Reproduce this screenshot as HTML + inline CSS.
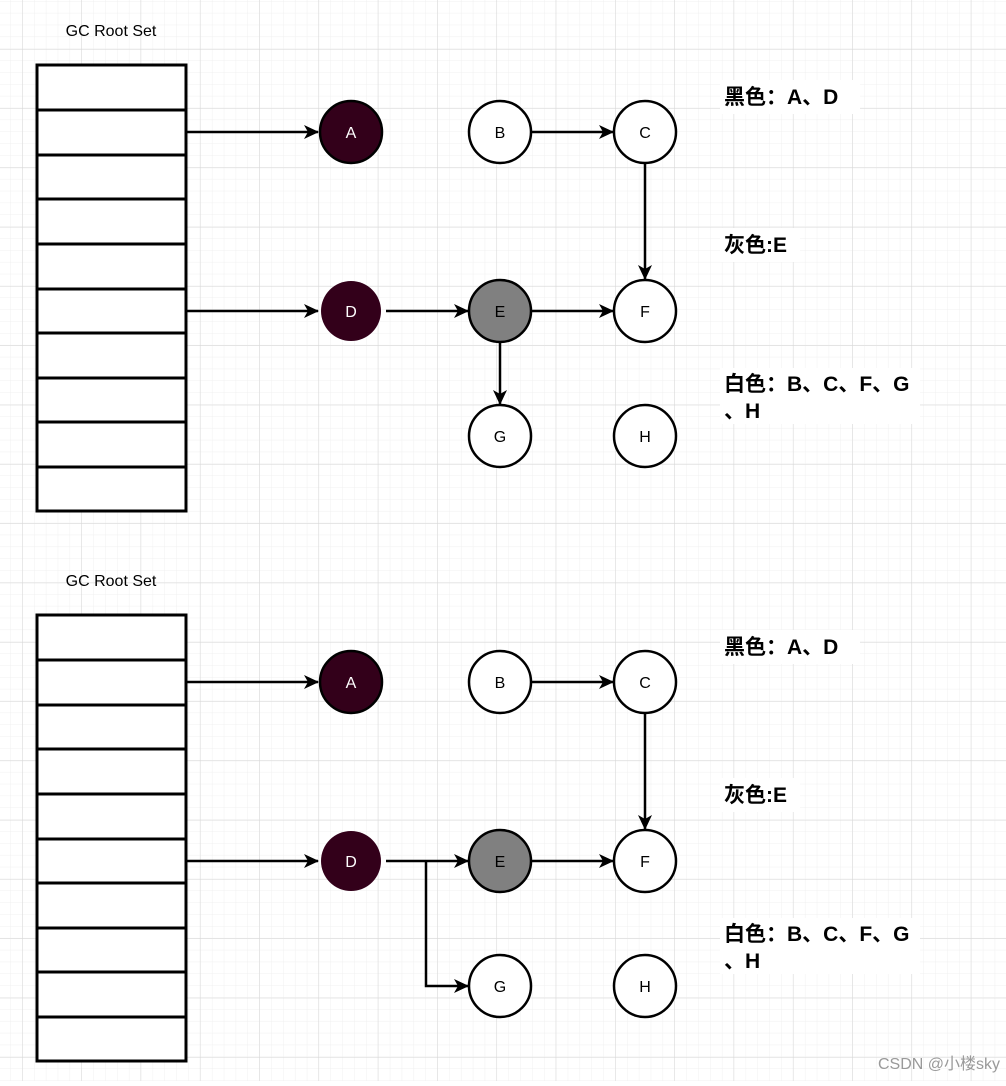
<!DOCTYPE html>
<html><head><meta charset="utf-8"><style>
body{margin:0;width:1006px;height:1081px;overflow:hidden;background:#fff;}
</style></head><body>
<svg width="1006" height="1081" xmlns="http://www.w3.org/2000/svg" font-family="Liberation Sans, Noto Sans CJK SC, sans-serif">
<defs>
<pattern id="minor" x="10.3" y="1" width="11.86" height="11.86" patternUnits="userSpaceOnUse"><path d="M0 0H11.86M0 0V11.86" stroke="#f0f0f0" stroke-width="1" fill="none"/></pattern>
<pattern id="major" x="22" y="49" width="59.3" height="59.3" patternUnits="userSpaceOnUse"><path d="M0 0H59.3M0 0V59.3" stroke="#d6d6d6" stroke-width="1" fill="none"/></pattern>
<marker id="ar" markerWidth="16" markerHeight="14" refX="14" refY="7" orient="auto" markerUnits="userSpaceOnUse"><path d="M0 0L15 7L0 14L4 7Z" fill="#000"/></marker>
</defs>
<rect width="1006" height="1081" fill="url(#minor)"/>
<rect width="1006" height="1081" fill="url(#major)"/>
<g id="d1">
<text x="111" y="36" font-size="16" text-anchor="middle">GC Root Set</text>
<rect x="37" y="65" width="149" height="446" fill="#fff" stroke="#000" stroke-width="3"/>
<g stroke="#000" stroke-width="3">
<line x1="37" y1="110" x2="186" y2="110"/><line x1="37" y1="155" x2="186" y2="155"/><line x1="37" y1="199" x2="186" y2="199"/><line x1="37" y1="244" x2="186" y2="244"/><line x1="37" y1="289" x2="186" y2="289"/><line x1="37" y1="333" x2="186" y2="333"/><line x1="37" y1="378" x2="186" y2="378"/><line x1="37" y1="422" x2="186" y2="422"/><line x1="37" y1="467" x2="186" y2="467"/>
</g>
<g stroke="#000" stroke-width="2.5" fill="none" marker-end="url(#ar)">
<line x1="186" y1="132" x2="318" y2="132"/>
<line x1="186" y1="311" x2="318" y2="311"/>
<line x1="532" y1="132" x2="613" y2="132"/>
<line x1="645" y1="164" x2="645" y2="279"/>
<line x1="532" y1="311" x2="613" y2="311"/>
</g>
<circle cx="351" cy="132" r="31" fill="#33001a" stroke="#000" stroke-width="2.5"/>
<circle cx="500" cy="132" r="31" fill="#fff" stroke="#000" stroke-width="2.5"/>
<circle cx="645" cy="132" r="31" fill="#fff" stroke="#000" stroke-width="2.5"/>
<circle cx="351" cy="311" r="30" fill="#33001a"/>
<circle cx="500" cy="311" r="31" fill="#808080" stroke="#000" stroke-width="2.5"/>
<circle cx="645" cy="311" r="31" fill="#fff" stroke="#000" stroke-width="2.5"/>
<circle cx="645" cy="436" r="31" fill="#fff" stroke="#000" stroke-width="2.5"/>
<g font-size="16" text-anchor="middle">
<text x="351" y="138" fill="#fff">A</text><text x="500" y="138">B</text><text x="645" y="138">C</text>
<text x="351" y="317" fill="#fff">D</text><text x="500" y="317">E</text><text x="645" y="317">F</text>
<text x="645" y="442">H</text>
</g>
<rect x="720" y="80" width="140" height="34" fill="#fff"/>
<rect x="720" y="228" width="80" height="34" fill="#fff"/>
<rect x="720" y="368" width="200" height="56" fill="#fff"/>
<g font-size="21" font-weight="bold">
<text x="724" y="104">黑色：A、D</text>
<text x="724" y="252">灰色:E</text>
<text x="724" y="391">白色：B、C、F、G</text>
<text x="724" y="418">、H</text>
</g>
</g>
<g stroke="#000" stroke-width="2.5" fill="none" marker-end="url(#ar)">
<line x1="386" y1="311" x2="468" y2="311"/>
<line x1="500" y1="343" x2="500" y2="404"/>
</g>
<circle cx="500" cy="436" r="31" fill="#fff" stroke="#000" stroke-width="2.5"/>
<text x="500" y="442" font-size="16" text-anchor="middle">G</text>

<use href="#d1" y="550"/>
<g stroke="#000" stroke-width="2.5" fill="none" marker-end="url(#ar)">
<line x1="386" y1="861" x2="468" y2="861"/>
<polyline points="426,861 426,986 468,986"/>
</g>
<circle cx="500" cy="986" r="31" fill="#fff" stroke="#000" stroke-width="2.5"/>
<text x="500" y="992" font-size="16" text-anchor="middle">G</text>
<text x="1000" y="1069" font-size="16" fill="#999" text-anchor="end">CSDN @小楼sky</text>
</svg>
</body></html>
